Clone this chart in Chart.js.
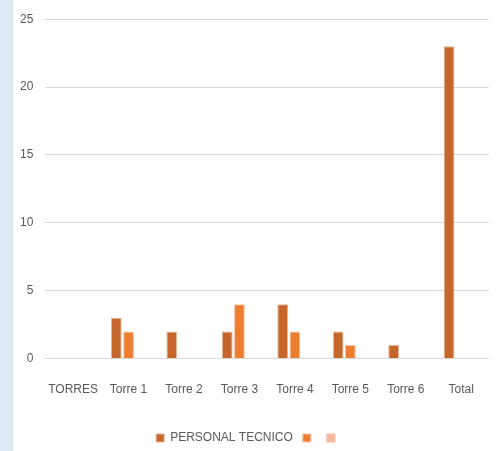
<!DOCTYPE html>
<html>
<head>
<meta charset="utf-8">
<script src="https://cdn.jsdelivr.net/npm/chart.js@4"></script>
<style>
    html, body { margin: 0; padding: 0; background: #fff; overflow: hidden; }
    .strip { position: absolute; left: 0; top: 0; width: 12px; height: 451px; background: #deeaf6; border-right: 1px solid #d2dfec; }
    .wrap { position: absolute; left: 8px; top: 0; width: 492px; height: 454px; }
</style>
</head>
<body>
<div class="strip"></div>
<div class="wrap"><canvas id="chart"></canvas></div>
<script>
// --- datos ---
const categories = ['TORRES', 'Torre 1', 'Torre 2', 'Torre 3', 'Torre 4', 'Torre 5', 'Torre 6', 'Total'];
const personalTecnico = [0, 3, 2, 2, 4, 2, 1, 23];
const serie2 = [0, 2, 0, 4, 2, 1, 0, 0];
const serie3 = [0, 0, 0, 0, 0, 0, 0, 0];
const yTicks = [0, 5, 10, 15, 20, 25];

const font = { family: '"Liberation Sans Narrow", "Liberation Sans", sans-serif', size: 12 };

new Chart(document.getElementById('chart'), {
    type: 'bar',
    data: {
        labels: categories,
        datasets: [{
            label: 'PERSONAL TECNICO',
            data: personalTecnico,
            backgroundColor: '#c5662a',
            borderColor: '#e8b496',
            borderWidth: 1
        }, {
            label: '',
            data: serie2,
            backgroundColor: '#ed7d31',
            borderColor: '#f6c3a0',
            borderWidth: 1
        }, {
            label: '',
            data: serie3,
            backgroundColor: '#f4b9a0',
            borderColor: '#f4b9a0',
            borderWidth: 1
        }]
    },
    options: {
        responsive: true,
        maintainAspectRatio: false,
        animation: false,
        layout: { padding: { top: 12, right: 11, bottom: 0 } },
        datasets: { bar: { categoryPercentage: 0.66, barPercentage: 0.88 } },
        plugins: {
            legend: {
                position: 'bottom',
                labels: { boxWidth: 8, boxHeight: 8, color: '#595959', font: font, padding: 10 }
            },
            tooltip: { enabled: false }
        },
        scales: {
            x: {
                grid: { display: false },
                border: { display: false },
                ticks: { color: '#595959', font: font, padding: 16, maxRotation: 0, autoSkip: false },
                afterFit: axis => { axis.height += 9; } // espacio entre etiquetas y leyenda
            },
            y: {
                min: 0,
                max: 25,
                afterBuildTicks: axis => { axis.ticks = yTicks.map(v => ({ value: v })); },
                grid: { color: '#d9d9d9', lineWidth: 1, drawTicks: false },
                border: { display: false },
                ticks: { color: '#595959', font: font, padding: 12 }
            }
        }
    }
});
</script>
</body>
</html>
